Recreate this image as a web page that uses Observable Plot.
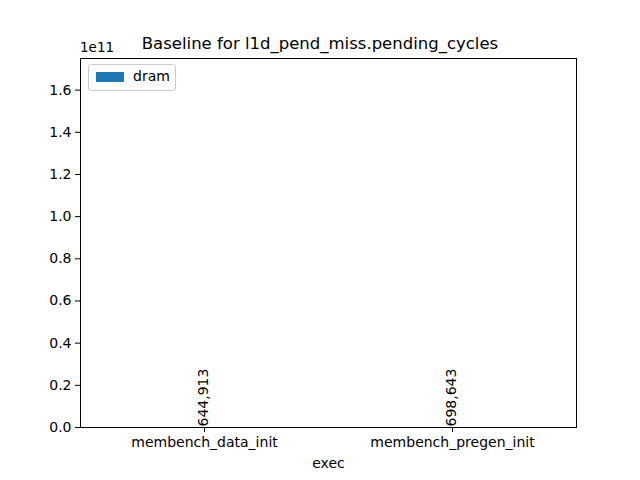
<!DOCTYPE html>
<html>
<head>
<meta charset="utf-8">
<script src="https://cdn.jsdelivr.net/npm/d3@7"></script>
<script src="https://cdn.jsdelivr.net/npm/@observablehq/plot@0.6"></script>
<style>
  body { margin: 0; background: white; font-family: "DejaVu Sans", sans-serif; }
  #wrap { position: relative; width: 640px; height: 480px; }
  .lbl { position: absolute; font-size: 14px; color: #000; }
  #legend { position: absolute; left: 88px; top: 64px; width: 86px; height: 25px;
    border: 1px solid #ccc; border-radius: 3px; background: rgba(255,255,255,0.8); }
  #legend .sw { position: absolute; left: 7px; top: 7px; width: 28px; height: 10px; background: #1f77b4; }
  #legend .tx { position: absolute; left: 44px; top: 3px; font-size: 14px; }
</style>
</head>
<body>
<div id="wrap">
  <div class="lbl" style="left:0;width:640px;top:34px;text-align:center;font-size:16.5px;">Baseline for l1d_pend_miss.pending_cycles</div>
  <div class="lbl" style="left:80px;top:39px;font-size:13.5px;">1e11</div>
  <div id="legend"><div class="sw"></div><div class="tx">dram</div></div>
</div>
<script>
const execs = ["membench_data_init", "membench_pregen_init"];
const dramValues = [644913, 698643];
const labels = ["644,913", "698,643"];

const data = execs.map((e, i) => ({exec: e, value: dramValues[i], label: labels[i]}));

const chart = Plot.plot({
  width: 640,
  height: 480,
  marginLeft: 80,
  marginRight: 64,
  marginTop: 58,
  marginBottom: 53,
  style: {fontFamily: "DejaVu Sans, sans-serif", fontSize: "14px", background: "transparent"},
  x: {domain: execs, paddingInner: 0.5, paddingOuter: 0.25, label: "exec", labelAnchor: "center", labelOffset: 40, tickSize: 5, tickPadding: 5},
  y: {domain: [0, 1.75e11], ticks: d3.range(0, 1.7e11, 0.2e11), tickFormat: (d) => (d / 1e11).toFixed(1), label: null, tickSize: 5},
  marks: [
    Plot.barY(data, {x: "exec", y: "value", fill: "#1f77b4"}),
    Plot.text(data, {x: "exec", y: "value", text: "label", rotate: -90, textAnchor: "start", dx: -1, dy: -1, fontSize: 14, fill: "black"}),
    Plot.frame({stroke: "black"})
  ]
});
chart.style.position = "absolute";
chart.style.left = "0";
chart.style.top = "0";
document.getElementById("wrap").prepend(chart);
</script>
</body>
</html>
